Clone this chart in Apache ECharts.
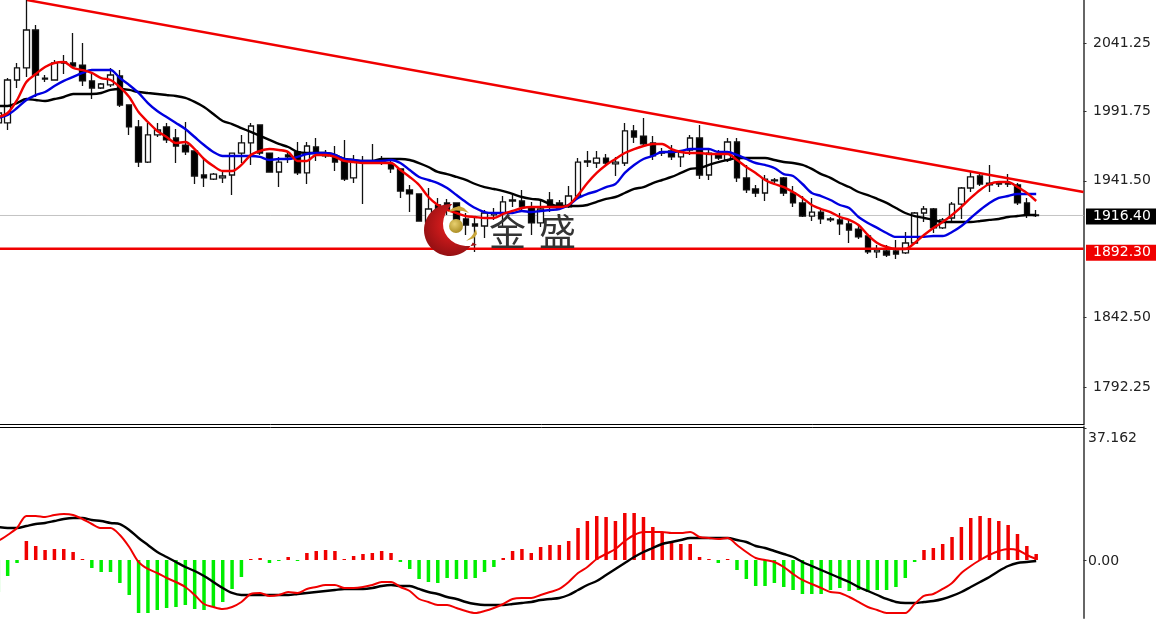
<!DOCTYPE html>
<html><head><meta charset="utf-8">
<style>html,body{margin:0;padding:0;background:#fff}#c{width:1156px;height:621px}</style>
<script src="https://cdn.jsdelivr.net/npm/echarts@6/dist/echarts.min.js"></script>
</head><body><div id="c"></div>
<script>
const opens=[1983.4,1983.4,2014.5,2023.2,2050.7,2015.9,2014.5,2027.5,2026.8,2025.3,
2013.8,2008.7,2010.9,2017.4,1996.4,1980.5,1955.1,1974.7,1980.5,1972.5,
1967.4,1963.1,1945.7,1942.8,1943.6,1945.7,1961.6,1968.9,1981.9,1961.6,
1947.9,1960.2,1962.4,1947.2,1966.0,1961.6,1958.8,1957.3,1943.6,1955.9,
1955.9,1955.9,1953.7,1950.1,1934.9,1932.0,1911.7,1924.0,1925.5,1925.5,
1913.9,1910.3,1908.8,1916.8,1918.2,1926.9,1926.9,1922.6,1911.0,1927.6,
1925.5,1922.6,1930.5,1955.9,1954.4,1958.0,1953.7,1954.4,1977.6,1973.9,
1968.9,1962.4,1963.1,1958.8,1963.8,1972.5,1945.7,1960.2,1956.6,1969.6,
1943.6,1935.6,1932.7,1941.4,1943.6,1932.7,1925.5,1916.0,1918.9,1913.9,
1913.2,1910.3,1906.6,1901.6,1890.0,1890.7,1890.7,1889.3,1896.5,1918.2,
1921.1,1907.4,1914.6,1924.7,1936.3,1945.0,1939.9,1939.9,1939.2,1938.5,
1925.5,1916.8];
const closes=[1990.6,2014.5,2023.2,2050.7,2018.1,2015.2,2026.8,2026.8,2024.6,2013.8,
2008.7,2011.6,2018.1,1996.4,1980.5,1955.1,1974.7,1978.3,1971.1,1966.7,
1962.4,1945.0,1943.6,1946.4,1945.0,1961.6,1968.9,1981.2,1961.6,1947.9,
1955.1,1958.8,1947.2,1966.7,1961.6,1959.5,1955.1,1942.8,1955.9,1955.1,
1955.1,1956.6,1950.1,1934.1,1932.0,1912.4,1921.1,1914.6,1920.4,1913.2,
1909.5,1908.8,1918.2,1918.2,1926.2,1927.6,1922.6,1911.0,1921.1,1922.6,
1921.8,1930.5,1955.1,1955.1,1958.0,1954.4,1955.1,1977.6,1973.2,1968.2,
1959.5,1961.6,1958.8,1963.1,1972.5,1945.7,1961.6,1958.0,1969.6,1943.6,
1934.9,1932.7,1942.8,1942.1,1932.7,1925.5,1916.0,1918.9,1913.9,1913.2,
1910.3,1905.9,1900.9,1890.0,1891.4,1887.8,1888.5,1896.5,1918.2,1921.1,
1907.4,1913.2,1924.7,1936.3,1944.3,1939.2,1938.5,1939.2,1939.9,1925.5,
1916.8,1916.4];
const lows=[1978.3,1978.3,2008.7,2016.7,2002.2,2013.0,2014.5,2018.8,2023.2,2010.1,
2000.7,2008.0,2009.4,1994.9,1974.7,1951.5,1954.4,1973.2,1968.9,1954.4,
1960.2,1939.2,1937.0,1942.1,1939.9,1931.2,1954.4,1953.0,1960.2,1947.9,
1937.0,1954.4,1945.7,1939.2,1955.9,1958.0,1948.6,1941.4,1939.9,1924.7,
1953.7,1953.0,1947.2,1929.1,1918.9,1912.4,1910.3,1911.7,1916.8,1907.4,
1902.3,1890.0,1900.1,1913.2,1908.1,1922.6,1920.4,1902.3,1908.1,1918.9,
1920.4,1921.8,1929.8,1951.5,1950.8,1953.0,1945.0,1952.2,1968.9,1967.4,
1956.6,1959.5,1956.6,1951.5,1960.2,1942.8,1942.1,1956.6,1955.1,1940.7,
1932.7,1929.8,1926.9,1939.9,1930.5,1922.6,1915.3,1912.4,1910.3,1911.7,
1902.3,1896.5,1899.4,1888.5,1885.6,1886.4,1884.9,1888.5,1896.5,1911.7,
1903.7,1906.6,1911.7,1913.9,1933.4,1937.8,1933.4,1937.0,1937.0,1924.0,
1914.6,1915.3];
const highs=[1994.2,2015.9,2026.8,2075.0,2054.3,2018.1,2029.0,2032.6,2048.5,2041.3,
2019.6,2012.3,2023.2,2021.7,1996.4,1985.5,1983.4,1983.4,1983.4,1979.0,
1984.1,1963.1,1957.3,1947.2,1949.3,1961.6,1974.7,1983.4,1981.9,1961.6,
1958.8,1962.4,1969.6,1969.6,1972.5,1963.8,1966.7,1971.1,1960.2,1959.5,
1968.2,1959.5,1956.6,1950.1,1938.5,1932.0,1936.3,1929.1,1928.4,1925.5,
1918.2,1914.6,1920.4,1921.8,1930.5,1931.2,1934.9,1926.2,1927.6,1933.4,
1927.6,1937.8,1958.0,1963.1,1963.1,1960.9,1958.8,1983.4,1981.9,1987.0,
1973.9,1965.3,1967.4,1963.8,1974.7,1981.9,1964.5,1963.8,1972.5,1972.5,
1953.0,1938.5,1945.7,1943.6,1944.3,1937.8,1930.5,1929.1,1921.8,1915.3,
1918.2,1913.2,1909.5,1903.0,1895.0,1895.0,1898.7,1904.5,1918.9,1923.3,
1921.8,1914.6,1926.2,1937.0,1947.9,1947.2,1953.0,1940.7,1946.4,1939.9,
1929.1,1920.4];
const maFast=[1987.7,1990.6,2000.0,2013.0,2018.8,2023.9,2026.8,2027.5,2023.2,2021.7,
2019.6,2015.9,2014.5,2009.4,2002.2,1991.3,1984.1,1977.6,1973.2,1968.9,
1969.6,1964.5,1957.3,1952.2,1948.6,1948.6,1953.0,1960.2,1963.1,1964.5,
1963.8,1962.4,1955.9,1955.9,1960.2,1960.2,1958.8,1955.9,1955.1,1954.4,
1954.4,1954.4,1954.4,1949.3,1944.3,1938.5,1929.8,1924.0,1920.4,1918.2,
1916.0,1915.3,1914.6,1914.6,1917.5,1919.7,1921.8,1922.6,1922.6,1922.6,
1922.6,1924.0,1931.2,1939.9,1947.2,1953.0,1957.3,1961.6,1964.5,1966.7,
1968.2,1968.2,1964.5,1962.4,1961.6,1961.6,1960.9,1960.9,1960.9,1956.6,
1951.5,1947.2,1942.1,1939.2,1937.0,1933.4,1929.1,1924.0,1921.1,1918.9,
1915.3,1913.2,1909.5,1902.3,1896.5,1893.6,1892.2,1892.2,1896.5,1902.3,
1907.4,1911.7,1916.8,1922.6,1929.1,1934.9,1939.2,1940.7,1940.7,1937.0,
1932.7,1926.9];
const maMid=[1987.0,1989.2,1994.2,2000.0,2003.6,2005.8,2010.1,2013.8,2016.7,2019.6,
2021.7,2021.7,2021.7,2015.9,2010.9,2005.1,1997.8,1992.0,1987.7,1983.4,
1979.0,1973.2,1967.4,1962.4,1959.5,1959.5,1959.5,1959.5,1958.8,1956.6,
1957.3,1957.3,1958.8,1960.9,1961.6,1961.6,1960.2,1957.3,1956.6,1955.9,
1955.9,1955.9,1956.6,1954.4,1949.3,1944.3,1942.1,1939.9,1936.3,1931.2,
1926.2,1921.8,1918.9,1918.2,1918.2,1918.2,1919.7,1918.9,1919.7,1920.4,
1921.1,1924.0,1929.1,1932.0,1934.1,1937.0,1939.2,1947.2,1953.0,1957.3,
1959.5,1962.4,1962.4,1963.1,1964.5,1964.5,1964.5,1962.4,1962.4,1960.2,
1957.3,1954.4,1953.0,1950.8,1946.4,1945.0,1939.2,1932.7,1930.5,1927.6,
1924.0,1921.8,1915.3,1911.0,1907.4,1903.7,1900.9,1900.9,1900.9,1900.9,
1901.6,1901.6,1904.5,1908.8,1914.6,1920.4,1925.5,1929.1,1930.5,1932.0,
1932.0,1932.0];
const maSlow=[1995.7,1995.7,1997.8,2000.7,2000.0,1999.3,2000.7,2002.2,2004.4,2004.4,
2004.4,2005.1,2007.3,2008.0,2007.3,2005.8,2005.1,2004.4,2003.6,2002.9,
2001.5,1998.6,1994.9,1989.9,1984.8,1982.6,1979.7,1976.9,1974.0,1971.1,
1968.2,1966.0,1962.4,1961.6,1961.6,1961.6,1960.2,1957.3,1956.6,1955.9,
1955.9,1957.3,1957.3,1957.3,1956.6,1954.4,1951.5,1947.9,1946.4,1944.3,
1942.1,1939.2,1937.0,1935.6,1934.1,1932.0,1929.8,1928.4,1927.6,1924.7,
1923.3,1923.3,1923.3,1924.0,1926.2,1928.4,1929.8,1932.7,1935.6,1937.0,
1939.9,1942.1,1944.3,1947.2,1950.1,1950.8,1953.0,1955.1,1956.6,1958.0,
1958.0,1958.0,1958.0,1956.6,1955.1,1954.4,1953.0,1950.1,1946.4,1943.6,
1939.9,1937.0,1933.4,1931.2,1928.4,1925.5,1921.8,1918.2,1916.0,1914.6,
1913.2,1911.7,1911.7,1911.7,1911.7,1912.4,1913.2,1913.9,1915.3,1916.0,
1916.8,1916.8];
const macdHist=[-9.01,-4.50,-0.84,5.35,3.94,2.82,3.10,3.10,2.25,0.28,
-2.25,-3.38,-3.38,-6.47,-9.85,-14.92,-14.92,-14.08,-13.51,-13.23,
-12.67,-13.79,-14.08,-13.23,-11.82,-8.16,-4.79,0.28,0.56,-0.84,
-0.28,0.84,-0.28,1.97,2.53,2.82,2.53,0.28,1.13,1.69,
1.97,2.53,1.97,-0.56,-2.53,-5.35,-6.19,-6.47,-5.07,-5.35,
-5.35,-5.07,-3.38,-1.97,0.56,2.53,3.10,1.97,3.66,4.22,
4.22,5.35,9.01,10.98,12.39,12.10,10.98,13.23,13.23,12.10,
9.29,7.60,5.35,4.50,4.50,0.84,0.28,-0.84,0.28,-2.82,
-5.35,-7.32,-7.32,-6.47,-7.60,-8.45,-9.57,-9.57,-9.57,-8.45,
-7.88,-8.73,-8.45,-9.01,-8.45,-8.45,-7.60,-5.07,-0.56,2.82,
3.38,4.50,6.47,9.29,11.82,12.39,11.82,10.98,9.85,7.32,
3.94,1.69];
const macdSignal=[5.35,7.04,9.01,12.39,12.39,12.10,12.67,12.95,12.67,11.54,
10.13,9.01,9.01,7.04,3.66,-0.56,-2.53,-3.66,-5.07,-6.19,
-7.60,-9.85,-12.39,-13.23,-13.79,-13.23,-11.82,-9.57,-9.29,-10.13,
-9.85,-9.01,-9.29,-8.16,-7.60,-7.04,-7.04,-7.88,-7.88,-7.60,
-7.04,-6.19,-6.19,-7.60,-8.73,-10.98,-11.82,-12.67,-12.67,-13.51,
-14.36,-14.92,-14.36,-13.51,-12.39,-10.98,-10.70,-10.70,-9.85,-9.01,
-8.16,-6.19,-3.66,-1.97,0.28,1.69,3.10,5.35,7.04,7.88,
7.88,7.88,7.60,7.60,7.88,6.47,6.19,5.91,6.19,4.22,
2.25,0.56,0,-0.56,-1.97,-3.94,-5.63,-6.76,-7.88,-9.01,
-9.29,-10.42,-11.82,-13.23,-14.08,-14.92,-14.92,-14.92,-12.39,-10.13,
-9.57,-8.16,-6.47,-3.66,-1.69,0,1.41,2.53,3.10,2.82,
1.41,0.28];
const macdMain=[9.29,9.01,9.01,9.57,10.13,10.42,10.98,11.54,11.82,11.82,
11.26,10.98,10.42,10.13,8.45,6.19,4.22,2.25,0.84,-0.56,
-1.97,-3.10,-4.50,-6.19,-7.88,-9.29,-9.85,-9.85,-9.85,-9.85,
-9.85,-9.85,-9.57,-9.29,-9.01,-8.73,-8.45,-8.16,-8.16,-8.16,
-7.88,-7.32,-7.04,-7.32,-7.32,-8.16,-9.01,-9.57,-10.42,-10.98,
-11.82,-12.39,-12.67,-12.67,-12.67,-12.39,-12.10,-11.82,-11.26,-10.98,
-10.70,-9.85,-8.45,-7.04,-5.91,-4.22,-2.53,-0.84,0.84,2.25,
3.38,4.50,5.07,5.63,6.19,6.19,6.19,6.19,6.19,5.63,
5.07,3.94,3.38,2.53,1.69,0.84,-0.56,-1.69,-2.82,-3.94,
-5.07,-6.19,-7.60,-8.73,-9.85,-10.98,-11.82,-12.10,-12.10,-11.82,
-11.54,-10.98,-10.13,-9.01,-7.60,-6.19,-4.79,-3.10,-1.69,-0.84,
-0.56,-0.28];
const priceTicks=[2041.25,1991.75,1941.50,1842.50,1792.25];
const macdTicks=[37.162,0];
const lastPrice=1916.40, supportPrice=1892.30;
const trendX=[2.07,115.06], trendY=[2072.4,1933.4];

const XMIN=-0.82,XMAX=115.06;
const at=k=>k-1;
const withX=a=>a.map((v,k)=>[at(k),v]);
const RED='#f00000';
const FONT='"DejaVu Sans"';
// Outline of the watermark crescent (decoration only, not data).
function crescent(){
  const pts=[];
  for(let a=-85;a>=-331;a-=6){const r=a*Math.PI/180;pts.push([450+26*Math.cos(r),230+26*Math.sin(r)]);}
  const P=[[477,245],[452,252],[430,228],[452,204]];
  for(let t=0;t<=1.001;t+=0.08){const u=1-t;
    pts.push([0,1].map(d=>u*u*u*P[0][d]+3*u*u*t*P[1][d]+3*u*t*t*P[2][d]+t*t*t*P[3][d]));}
  return pts;
}
const chart=echarts.init(document.getElementById('c'),null,{renderer:'canvas'});
const line=(name,data,color,w,xi,z,smooth)=>({name,type:'line',data,xAxisIndex:xi,yAxisIndex:xi,showSymbol:false,symbol:'none',
  lineStyle:{color,width:w},silent:true,animation:false,z,smooth:smooth||false});
const endLabel=(val,bg,off)=>({symbol:'circle',symbolSize:1,itemStyle:{color:'transparent'},silent:true,animation:false,
  data:[{coord:[XMAX,val],value:val.toFixed(2),
  label:{show:true,position:'right',distance:2,offset:[0,off],formatter:val.toFixed(2),color:'#fff',backgroundColor:bg,
  fontFamily:FONT,fontSize:14,width:63,height:16,lineHeight:16,padding:[0,0,0,7],align:'left'}}]});
const option={
  animation:false,backgroundColor:'#fff',
  grid:[{left:0,top:0,width:1083.5,height:424.5},{left:0,top:427,width:1083.5,height:191}],
  xAxis:[0,1].map(i=>({type:'value',gridIndex:i,min:XMIN,max:XMAX,position:i?'top':'bottom',
    axisLine:{show:true,onZero:false,lineStyle:{color:'#000',width:1}},axisTick:{show:false},axisLabel:{show:false},splitLine:{show:false}})),
  yAxis:[
   {type:'value',gridIndex:0,position:'right',min:1765.1,max:2072.4,
    axisLine:{show:true,onZero:false,lineStyle:{color:'#666',width:2}},splitLine:{show:false},
    axisTick:{show:true,length:3,inside:false,customValues:priceTicks,lineStyle:{color:'#333'}},
    axisLabel:{show:true,customValues:priceTicks,margin:9.5,color:'#222',fontFamily:FONT,fontSize:14,padding:[2,0,0,0],formatter:v=>v.toFixed(2)}},
   {type:'value',gridIndex:1,position:'right',min:-16.33,max:37.44,
    axisLine:{show:true,onZero:false,lineStyle:{color:'#666',width:2}},splitLine:{show:false},
    axisTick:{show:true,length:3,customValues:macdTicks,lineStyle:{color:'#333'}},
    axisLabel:{show:true,customValues:macdTicks,margin:4.5,color:'#222',fontFamily:FONT,fontSize:14,padding:[2,0,0,0],
      formatter:v=>v>1?'{t|'+v.toFixed(3)+'}':v.toFixed(2),
      rich:{t:{color:'#222',fontFamily:FONT,fontSize:14,padding:[18,0,0,0]}}}}
  ],
  series:[
   line('last',[[XMIN,lastPrice],[XMAX,lastPrice]],'#c4c4c4',1,0,1),
   {name:'price',type:'candlestick',xAxisIndex:0,yAxisIndex:0,barWidth:6,silent:true,animation:false,z:2,clip:true,
    encode:{x:0,y:[1,2,3,4]},
    data:opens.map((o,k)=>[at(k),o,closes[k],lows[k],highs[k]]),
    itemStyle:{color:'#fff',color0:'#000',borderColor:'#111',borderColor0:'#111',borderWidth:1.3}},
   line('slow',withX(maSlow),'#000',2.4,0,3,0.3),
   line('mid',withX(maMid),'#0000e0',2.4,0,4,0.3),
   line('fast',withX(maFast),RED,2.4,0,5,0.3),
   line('trend',trendX.map((x,k)=>[x,trendY[k]]),RED,2.4,0,6),
   Object.assign(line('support',[[XMIN,supportPrice],[XMAX,supportPrice]],RED,2.4,0,6),{markPoint:endLabel(supportPrice,'#f00000',4)}),
   Object.assign(line('lastTag',[[XMAX,lastPrice]],'#000',0,0,6),{markPoint:endLabel(lastPrice,'#000',1)}),
   {name:'hist',type:'bar',xAxisIndex:1,yAxisIndex:1,barWidth:3.5,silent:true,animation:false,z:2,
    data:withX(macdHist),itemStyle:{color:p=>p.value[1]>=0?'#f00000':'#00ee00'}},
   line('macd',withX(macdMain),'#000',2.4,1,3,0.3),
   line('signal',withX(macdSignal),RED,2,1,4,0.3)
  ],
  graphic:[
   {type:'polygon',z:50,shape:{points:crescent()},
    style:{fill:{type:'radial',x:0.55,y:0.4,r:0.65,colorStops:[{offset:0,color:'#f02020'},{offset:1,color:'#8e0f12'}]}}},
   {type:'polygon',z:50,shape:{points:[[448,212],[453,208],[459,206],[464,208],[469,213],[463,211],[456,210.5]]},style:{fill:'#c9a63a'}},
   {type:'polygon',z:50,shape:{points:[[476,229],[477,234],[474,238],[466,241],[471,237],[474,233]]},style:{fill:'#c9a63a'}},
   {type:'circle',z:51,shape:{cx:456,cy:226,r:7},style:{fill:{type:'radial',x:0.4,y:0.35,r:0.7,colorStops:[{offset:0,color:'#e8d070'},{offset:1,color:'#a88a20'}]}}},
   {type:'text',z:50,x:489,y:213,style:{text:'金',fontFamily:'"Noto Sans CJK SC"',fontSize:37,fill:'#333'}},
   {type:'text',z:50,x:539,y:213,style:{text:'盛',fontFamily:'"Noto Sans CJK SC"',fontSize:37,fill:'#333'}}
  ]
};
chart.setOption(option);
</script></body></html>
